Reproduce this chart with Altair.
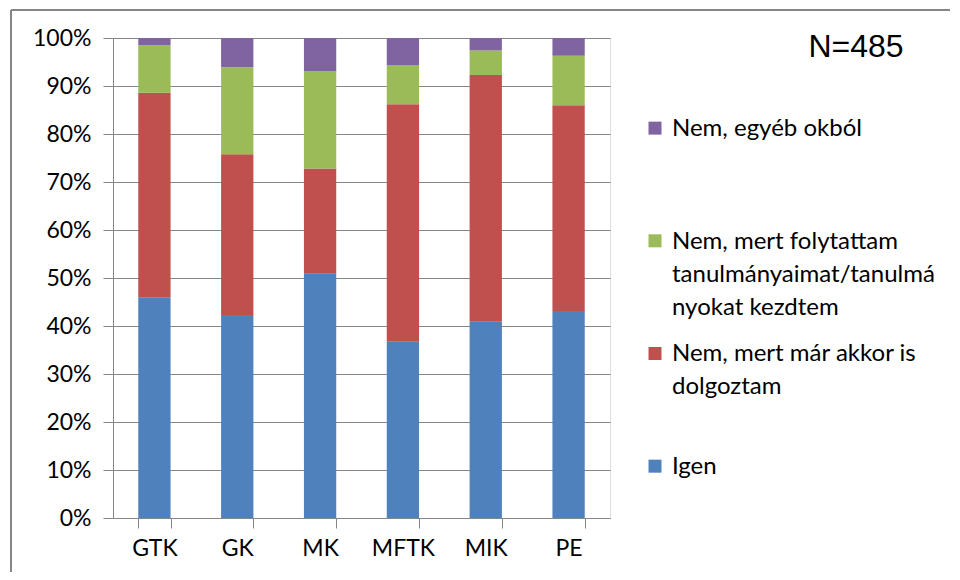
import altair as alt
import pandas as pd

categories = ["GTK", "GK", "MK", "MFTK", "MIK", "PE"]
series = [
    "Igen",
    "Nem, mert már akkor is dolgoztam",
    "Nem, mert folytattam tanulmányaimat/tanulmányokat kezdtem",
    "Nem, egyéb okból",
]
legend_lines = [
    "Igen",
    "Nem, mert már akkor is\ndolgoztam",
    "Nem, mert folytattam\ntanulmányaimat/tanulmá\nnyokat kezdtem",
    "Nem, egyéb okból",
]
igen = [46.0, 42.3, 50.9, 36.7, 40.9, 43.1]
dolgoztam = [42.6, 33.5, 21.9, 49.5, 51.4, 42.9]
tanulmany = [9.9, 18.1, 20.3, 8.2, 5.1, 10.3]
egyeb = [1.5, 6.1, 6.9, 5.6, 2.6, 3.7]
colors = ["#4F81BD", "#C0504D", "#9BBB59", "#8064A2"]
n_label = "N=485"

rows = []
for si, (name, vals) in enumerate(zip(series, [igen, dolgoztam, tanulmany, egyeb])):
    for c, v in zip(categories, vals):
        rows.append({"kar": c, "valasz": name, "ertek": v, "rend": si})
df = pd.DataFrame(rows)

leg = pd.DataFrame({"valasz": series, "label": legend_lines, "rank": list(range(len(series)))})

FONT = "Lato"
W, H = 497, 480

bars = alt.Chart(df).mark_bar().encode(
    x=alt.X("kar:N", sort=categories, title=None,
            scale=alt.Scale(paddingInner=0.61, paddingOuter=0.305),
            axis=alt.Axis(labelAngle=0, labelFontSize=23, labelFont=FONT, labelColor="#000000",
                          tickBand="extent", tickSize=10, tickColor="#868686",
                          domainColor="#868686", labelPadding=9, grid=False)),
    y=alt.Y("ertek:Q", stack="normalize", title=None,
            scale=alt.Scale(domain=[0, 1]),
            axis=alt.Axis(format=".0%", values=[i / 10 for i in range(11)],
                          labelFontSize=23, labelFont=FONT, labelColor="#000000",
                          tickSize=10, tickColor="#868686", domainColor="#868686",
                          gridColor="#868686", gridWidth=1, labelPadding=12)),
    color=alt.Color("valasz:N", scale=alt.Scale(domain=series, range=colors), legend=None),
    order=alt.Order("rend:Q", sort="ascending"),
)

leg_y = alt.Y("rank:Q", scale=alt.Scale(domain=[-0.46, 3.8]), axis=None)
leg_sq = alt.Chart(leg).mark_square(size=169, opacity=1).encode(
    x=alt.value(542),
    y=leg_y,
    color=alt.Color("valasz:N", scale=alt.Scale(domain=series, range=colors), legend=None),
)
leg_tx = alt.Chart(leg).mark_text(
    align="left", baseline="alphabetic", dy=8, fontSize=24, font=FONT,
    lineBreak="\n", lineHeight=33, color="#000000",
).encode(x=alt.value(559), y=leg_y, text="label:N")

ntext = alt.Chart(pd.DataFrame({"t": [n_label]})).mark_text(
    align="center", baseline="middle", fontSize=32, font="Liberation Sans", color="#000000"
).encode(x=alt.value(743), y=alt.value(9), text="t:N")

one = pd.DataFrame({"t": [0]})
border_left = alt.Chart(one).mark_rule(color="#868686", strokeWidth=2).encode(
    x=alt.value(-102), y=alt.value(-28), y2=alt.value(650))
border_top = alt.Chart(one).mark_rule(color="#868686", strokeWidth=2).encode(
    x=alt.value(-102), x2=alt.value(950), y=alt.value(-28))

chart = alt.layer(border_left, border_top, bars, leg_sq, leg_tx, ntext).resolve_scale(y="independent").properties(
    width=W, height=H,
    autosize=alt.AutoSizeParams(type="none"),
    padding={"left": 105, "top": 30, "right": 340, "bottom": 54},
).configure_view(stroke=None).configure(background="white")

chart.save("out.html", embed_options={"renderer": "svg", "actions": False})
